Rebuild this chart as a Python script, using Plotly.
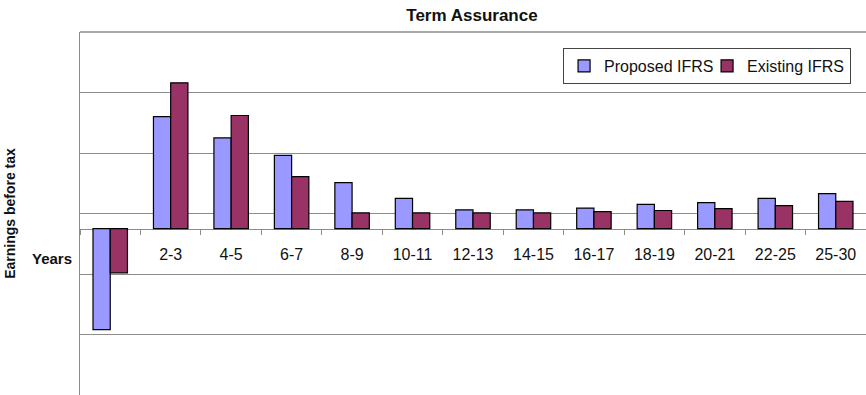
import plotly.graph_objects as go

categories = ["1", "2-3", "4-5", "6-7", "8-9", "10-11", "12-13", "14-15",
              "16-17", "18-19", "20-21", "22-25", "25-30"]
proposed_ifrs = [-1.67, 1.85, 1.50, 1.21, 0.76, 0.50, 0.31, 0.31, 0.34, 0.40, 0.43, 0.50, 0.58]
existing_ifrs = [-0.73, 2.41, 1.87, 0.86, 0.26, 0.26, 0.26, 0.26, 0.28, 0.30, 0.33, 0.38, 0.45]

FONT = "Liberation Sans, Arial, sans-serif"
GRID = "#8c8c8c"

fig = go.Figure()
fig.add_trace(go.Bar(name="Proposed IFRS", x=categories, y=proposed_ifrs,
                     marker=dict(color="#9999ff", line=dict(color="#000000", width=1.2))))
fig.add_trace(go.Bar(name="Existing IFRS", x=categories, y=existing_ifrs,
                     marker=dict(color="#993366", line=dict(color="#000000", width=1.2))))

ymin, ymax = -2.75, 3.25
zero_pos = (0 - ymin) / (ymax - ymin)

fig.update_layout(
    width=866, height=395,
    margin=dict(l=80, r=0, t=32, b=0),
    paper_bgcolor="white", plot_bgcolor="white",
    barmode="group", bargap=0.43, bargroupgap=0,
    font=dict(family=FONT, size=15, color="#111111"),
    title=dict(text="<b>Term Assurance</b>", x=0.545, xanchor="center",
               y=0.962, yanchor="middle", font=dict(size=17)),
    showlegend=True,
    legend=dict(orientation="h", x=0.981, xanchor="right", y=0.956, yanchor="top",
                bgcolor="white", bordercolor="#444444", borderwidth=1,
                font=dict(size=16), itemwidth=30, tracegroupgap=0,
                entrywidthmode="pixels", entrywidth=98),
    xaxis=dict(anchor="free", position=zero_pos, showline=True, linecolor=GRID,
               linewidth=1, ticks="outside", ticklen=5, tickcolor=GRID,
               tickson="boundaries", showgrid=False, ticklabelstandoff=11,
               tickfont=dict(size=16), range=[-0.5, 12.5], layer="below traces"),
    yaxis=dict(range=[ymin, ymax], tick0=0.25, dtick=1, showticklabels=False,
               showgrid=True, gridcolor=GRID, gridwidth=1, zeroline=False,
               showline=True, linecolor=GRID, linewidth=1,
               title=dict(text="<b>Earnings before tax</b>", font=dict(size=14),
                          standoff=60)),
    shapes=[dict(type="line", xref="paper", yref="paper", x0=0, x1=1, y0=1, y1=1,
                 line=dict(color=GRID, width=1.5))],
    annotations=[dict(text="<b>Years</b>", xref="paper", yref="y", x=-0.008, y=0,
                      xanchor="right", yanchor="top", yshift=-19, showarrow=False,
                      font=dict(size=15))],
)

fig.write_html("out.html")
